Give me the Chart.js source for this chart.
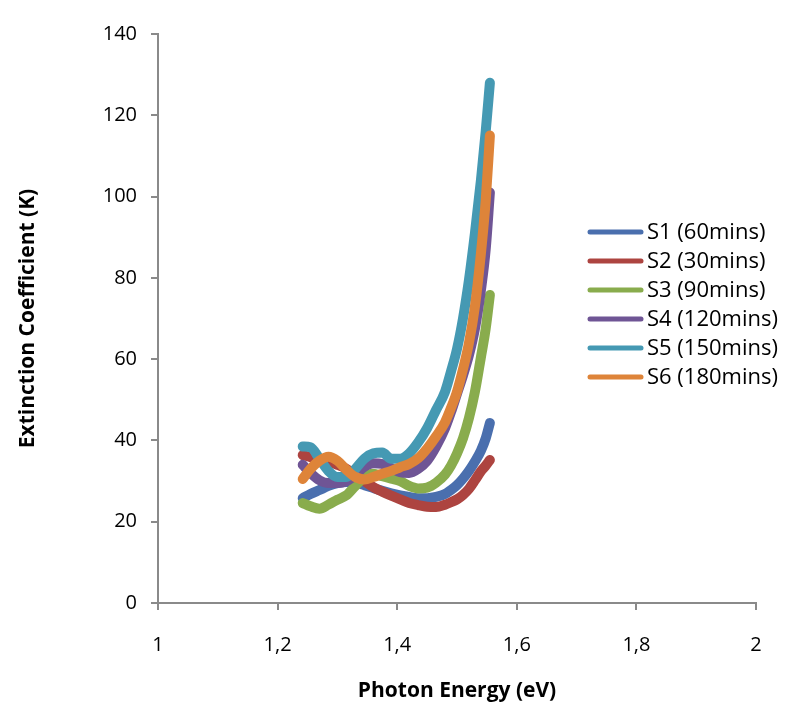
<!DOCTYPE html>
<html>
<head>
<meta charset="utf-8">
<script src="https://cdn.jsdelivr.net/npm/chart.js@4/dist/chart.umd.min.js"></script>
<style>
  html, body { margin: 0; padding: 0; background: #fff; }
  canvas { display: block; }
</style>
</head>
<body>
<canvas id="chart" width="789" height="718"></canvas>
<script>
// photon energy (eV), shared by every sample
const energy = [1.242, 1.255, 1.27, 1.285, 1.30, 1.315, 1.33, 1.345, 1.36, 1.375, 1.39, 1.405,
  1.42, 1.435, 1.45, 1.465, 1.48, 1.49, 1.50, 1.51, 1.52, 1.53, 1.54, 1.548, 1.555];

// extinction coefficient K per sample
const s1 = [25.8, 26.8, 27.8, 28.8, 29.5, 29.8, 29.6, 29.0, 28.3, 27.6, 27.0, 26.5,
  26.1, 25.8, 25.8, 26.1, 26.8, 27.8, 29.0, 30.6, 32.5, 34.8, 37.5, 40.5, 44.3];
const s2 = [36.4, 35.9, 35.4, 34.8, 34.0, 33.0, 31.5, 30.0, 28.5, 27.4, 26.4, 25.5,
  24.6, 24.1, 23.7, 23.6, 24.2, 24.8, 25.5, 26.6, 28.1, 30.2, 32.4, 33.8, 35.2];
const s3 = [24.6, 23.8, 23.2, 24.2, 25.4, 26.5, 28.8, 31.0, 31.8, 31.2, 30.6, 30.0,
  28.8, 28.2, 28.4, 29.6, 31.6, 33.8, 36.8, 40.5, 45.5, 52.0, 60.5, 67.5, 75.8];
const s4 = [34.0, 32.0, 30.2, 29.5, 29.5, 30.0, 31.5, 33.5, 34.4, 34.2, 33.2, 32.2,
  32.0, 33.0, 35.0, 38.5, 43.0, 47.0, 51.5, 56.0, 61.0, 67.5, 77.0, 87.0, 101.0];
const s5 = [38.5, 38.3, 35.5, 32.5, 31.0, 31.0, 33.0, 35.5, 36.8, 37.0, 35.5, 35.5,
  36.8, 39.5, 43.0, 47.5, 52.0, 57.0, 62.5, 70.0, 79.5, 91.0, 104.0, 116.0, 128.0];
const s6 = [30.5, 33.0, 35.0, 36.0, 35.0, 32.8, 31.0, 30.4, 31.0, 31.8, 32.5, 33.4,
  34.2, 35.6, 38.0, 41.0, 44.5, 48.0, 52.0, 57.5, 64.0, 73.0, 86.0, 99.0, 115.0];

const labels = ["S1 (60mins)", "S2 (30mins)", "S3 (90mins)", "S4 (120mins)", "S5 (150mins)", "S6 (180mins)"];
const colors = ["#4A6FAE", "#AD4440", "#89AC4D", "#6F5595", "#4599B3", "#DE8439"];
const values = [s1, s2, s3, s4, s5, s6];

const axisColor = "#8a8a8a";
const fontFamily = '"Open Sans", sans-serif';

// legend sits inside the plot, to the right of the curves
const sideLegend = {
  id: "sideLegend",
  afterDraw(chart) {
    const { ctx } = chart;
    ctx.save();
    ctx.font = `22px ${fontFamily}`;
    ctx.textBaseline = "middle";
    ctx.lineCap = "round";
    chart.data.datasets.forEach((ds, i) => {
      const y = 232 + i * 29;
      ctx.strokeStyle = ds.borderColor;
      ctx.lineWidth = 5;
      ctx.beginPath();
      ctx.moveTo(590, y);
      ctx.lineTo(641, y);
      ctx.stroke();
      ctx.fillStyle = "#000";
      ctx.fillText(ds.label, 647, y + 1);
    });
    ctx.restore();
  },
};

const datasets = values.map((k, i) => ({
  label: labels[i],
  data: energy.map((e, j) => ({ x: e, y: k[j] })),
  borderColor: colors[i],
  backgroundColor: colors[i],
  borderWidth: 10,
  borderCapStyle: "round",
  borderJoinStyle: "round",
  pointRadius: 0,
  tension: 0.4,
  cubicInterpolationMode: "monotone",
  order: values.length - i, // later samples drawn on top
}));

new Chart(document.getElementById("chart"), {
  type: "line",
  data: { datasets },
  options: {
    responsive: false,
    animation: false,
    layout: { padding: { top: 34, right: 33, bottom: 0, left: 0 } },
    plugins: { legend: { display: false }, tooltip: { enabled: false } },
    scales: {
      x: {
        type: "linear",
        min: 1,
        max: 2,
        afterFit: (s) => { s.height = 115; },
        border: { color: axisColor, width: 2 },
        grid: { drawOnChartArea: false, color: axisColor, lineWidth: 2, tickLength: 7 },
        ticks: {
          stepSize: 0.2,
          padding: 23,
          color: "#000",
          font: { family: fontFamily, size: 20 },
          callback: (v) => String(Math.round(v * 10) / 10).replace(".", ","),
        },
        title: {
          display: true,
          text: "Photon Energy (eV)",
          color: "#000",
          font: { family: fontFamily, size: 21, weight: "bold" },
          padding: { bottom: 14 },
        },
      },
      y: {
        min: 0,
        max: 140,
        afterFit: (s) => { s.width = 158; },
        border: { color: axisColor, width: 2 },
        grid: { drawOnChartArea: false, color: axisColor, lineWidth: 2, tickLength: 7 },
        ticks: {
          stepSize: 20,
          padding: 14,
          color: "#000",
          font: { family: fontFamily, size: 20 },
        },
        title: {
          display: true,
          text: "Extinction Coefficient (K)",
          color: "#000",
          font: { family: fontFamily, size: 21, weight: "bold" },
          padding: { top: 15 },
        },
      },
    },
  },
  plugins: [sideLegend],
});
</script>
</body>
</html>
